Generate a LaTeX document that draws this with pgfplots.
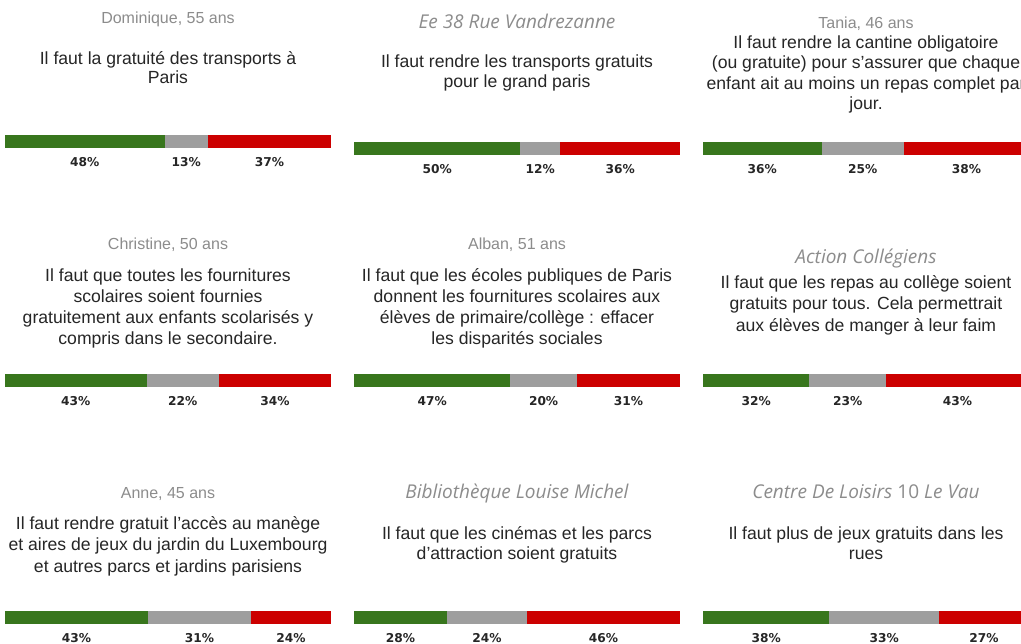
\documentclass[border=0pt]{standalone}
\usepackage{fontspec}
\setmainfont{Liberation Sans}
\newfontfamily\opensans{Open Sans}
\newfontfamily\dejavu{DejaVu Sans}
\usepackage{pgfplots}
\pgfplotsset{compat=1.18}
\definecolor{pour}{HTML}{38761D}
\definecolor{neutre}{HTML}{9E9E9E}
\definecolor{contre}{HTML}{CC0000}
\definecolor{nomgris}{HTML}{8C8C8C}
\definecolor{texte}{HTML}{262626}

\pgfplotsset{
  panneau/.style={anchor=north west, width=163pt, height=6.5pt, scale only axis,
    hide axis, xmin=0, ymin=-0.5, ymax=0.5, clip=false},
  barres/.style={panneau, xbar stacked, bar width=6.5pt},
  etiq/.style={panneau, nodes near coords, point meta=explicit symbolic,
    every node near coord/.append style={anchor=center, inner sep=0pt,
      font=\dejavu\bfseries\fontsize{6.1}{7}\selectfont, text=texte}},
}

% #1 x gauche (pt), #2 y haut (pt), #3 pour, #4 neutre, #5 contre
\newcommand{\barre}[5]{%
  \pgfmathsetmacro\tot{#3+#4+#5}%
  \pgfmathsetmacro\ma{#3/2}%
  \pgfmathsetmacro\mb{#3+#4/2}%
  \pgfmathsetmacro\mc{#3+#4+#5/2}%
  \begin{axis}[barres, at={(#1,#2)}, xmax=\tot]
    \addplot[fill=pour, draw=none] coordinates {(#3,0)};
    \addplot[fill=neutre, draw=none] coordinates {(#4,0)};
    \addplot[fill=contre, draw=none] coordinates {(#5,0)};
  \end{axis}
  \begin{axis}[etiq, at={(#1,#2)}, xmax=\tot]
    \addplot[draw=none] coordinates {(\ma,-1.6)[#3\%] (\mb,-1.6)[#4\%] (\mc,-1.6)[#5\%]};
  \end{axis}}

\tikzset{
  nom/.style={anchor=base, inner sep=0pt, text=nomgris, font=\fontsize{8}{9}\selectfont},
  nomit/.style={anchor=base, inner sep=0pt, text=nomgris, font=\opensans\itshape\fontsize{9.5}{11}\selectfont},
  cit/.style={anchor=base, inner sep=0pt, text=texte, font=\fontsize{8.8}{9}\selectfont},
}
% #1 x centre (px), #2 premiere ligne de base (px), #3 interligne (px), #4 lignes
\newcommand{\citer}[4]{%
  \foreach \l [count=\i from 0] in {#4}
    \node[cit] at (#1,{-(#2+\i*#3)}) {\l};}

\begin{document}
\begin{tikzpicture}[x=0.5pt, y=0.5pt]
\useasboundingbox (0,0) rectangle (1021,-643);
\fill[white] (0,0) rectangle (1021,-643);
\clip (0,0) rectangle (1021,-643);

% rangee 1
\node[nom] at (168,-23) {Dominique, 55 ans};
\citer{168}{64}{19.5}{{Il faut la gratuité des transports à},{Paris}}
\barre{2.5pt}{-67.5pt}{48}{13}{37}

\node[nomit] at (517,-28) {Ee 38 Rue Vandrezanne};
\citer{517}{67}{20.5}{{Il faut rendre les transports gratuits},{pour le grand paris}}
\barre{177pt}{-71pt}{50}{12}{36}

\node[nom] at (866,-28) {Tania, 46 ans};
\citer{866}{48}{20.5}{{Il faut rendre la cantine obligatoire},{(ou gratuite) pour s'assurer que chaque},{enfant ait au moins un repas complet par},{jour.}}
\barre{351.5pt}{-71pt}{36}{25}{38}

% rangee 2
\node[nom] at (168,-249) {Christine, 50 ans};
\citer{168}{281}{21}{{Il faut que toutes les fournitures},{scolaires soient fournies},{gratuitement aux enfants scolarisés y},{compris dans le secondaire.}}
\barre{2.5pt}{-187pt}{43}{22}{34}

\node[nom] at (517,-249) {Alban, 51 ans};
\citer{517}{281}{21}{{Il faut que les écoles publiques de Paris},{donnent les fournitures scolaires aux},{élèves de primaire/collège : effacer},{les disparités sociales}}
\barre{177pt}{-187pt}{47}{20}{31}

\node[nomit] at (866,-263) {Action Collégiens};
\citer{866}{288}{21.5}{{Il faut que les repas au collège soient},{gratuits pour tous. Cela permettrait},{aux élèves de manger à leur faim}}
\barre{351.5pt}{-187pt}{32}{23}{43}

% rangee 3
\node[nom] at (168,-498) {Anne, 45 ans};
\citer{168}{529}{21.5}{{Il faut rendre gratuit l'accès au manège},{et aires de jeux du jardin du Luxembourg},{et autres parcs et jardins parisiens}}
\barre{2.5pt}{-305.5pt}{43}{31}{24}

\node[nomit] at (517,-498) {Bibliothèque Louise Michel};
\citer{517}{539}{20.5}{{Il faut que les cinémas et les parcs},{d'attraction soient gratuits}}
\barre{177pt}{-305.5pt}{28}{24}{46}

\node[nomit] at (866,-498) {Centre De Loisirs {\upshape 10} Le Vau};
\citer{866}{539}{20.5}{{Il faut plus de jeux gratuits dans les},{rues}}
\barre{351.5pt}{-305.5pt}{38}{33}{27}
\end{tikzpicture}
\end{document}
